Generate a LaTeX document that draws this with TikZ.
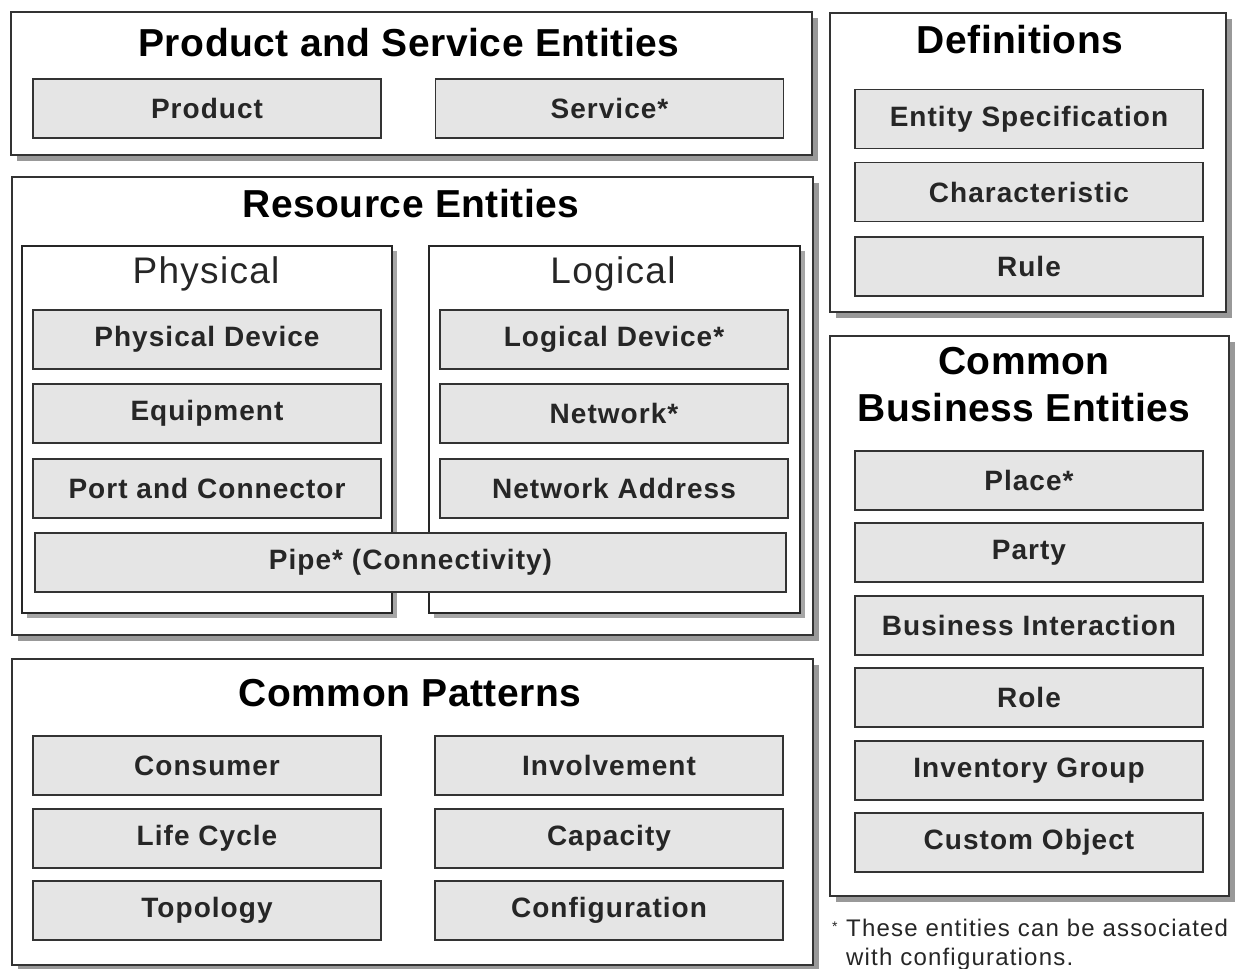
\documentclass[tikz,border=0pt]{standalone}
\usepackage{fontspec}
\setmainfont{Liberation Sans}
\usetikzlibrary{shadows}
\begin{document}
\begin{tikzpicture}[x=1pt,y=-1pt,
  outerbox/.style={draw=black!80, line width=2pt, fill=white, inner sep=0pt,
    drop shadow={shadow xshift=6pt, shadow yshift=-6pt, fill=black!40, opacity=1}},
  subbox/.style={draw=black!85, line width=1.8pt, fill=white, inner sep=0pt,
    drop shadow={shadow xshift=5pt, shadow yshift=-5pt, fill=black!35, opacity=1}},
  ibox/.style={draw=black!80, line width=1.8pt, fill=black!10, inner sep=0pt,
    minimum width=348pt, minimum height=59pt,
    font=\fontsize{28}{33}\selectfont\bfseries\addfontfeature{LetterSpace=3.7}, text=black!85},
  title/.style={font=\fontsize{39}{47}\selectfont\bfseries\addfontfeature{LetterSpace=1.3}, inner sep=0pt, text=black, align=center},
  subtitle/.style={font=\fontsize{37}{44}\selectfont\addfontfeature{LetterSpace=3.5}, inner sep=0pt, text=black!85},
  note/.style={font=\fontsize{24}{28}\selectfont\addfontfeature{LetterSpace=5}, inner sep=0pt, anchor=base west, text=black!85}]
\useasboundingbox (0,0) rectangle (1235,969);
\fill[white] (0,0) rectangle (1235,969);

% Product and Service Entities
\node[outerbox, minimum width=801pt, minimum height=143pt] (pse) at (411.5,83.5) {};
\node[title] (psetitle) at (409,43) {Product and Service Entities};
\node[ibox] (product) at (207,108.5) {Product};
\node[ibox] (service) at (609.5,108.5) {Service*};

% Definitions
\node[outerbox, minimum width=396pt, minimum height=299pt] (defs) at (1028,162.5) {};
\node[title] (defstitle) at (1020,40) {Definitions};
\node[ibox] (entspec) at (1029,119) {Entity Specification};
\node[ibox] (charac) at (1029,192) {Characteristic};
\node[ibox] (rule) at (1029,266.5) {Rule};

% Resource Entities
\node[outerbox, minimum width=801pt, minimum height=458pt] (res) at (412.5,406) {};
\node[title] (restitle) at (411,204) {Resource Entities};
\node[subbox, minimum width=370pt, minimum height=367pt] (phys) at (207,429.5) {};
\node[subtitle] (physt) at (206,274) {Physical};
\node[subbox, minimum width=371pt, minimum height=367pt] (logi) at (614.5,429.5) {};
\node[subtitle] (logit) at (613,274) {Logical};
\node[ibox] (physdev) at (207,339.5) {Physical Device};
\node[ibox] (equip) at (207,413.5) {Equipment};
\node[ibox] (port) at (207,488.5) {Port and Connector};
\node[ibox] (logdev) at (614,339.5) {Logical Device*};
\node[ibox] (network) at (614,413.5) {Network*};
\node[ibox] (netaddr) at (614,488.5) {Network Address};
\node[ibox, minimum width=751pt] (pipe) at (410.5,562.5) {Pipe* (Connectivity)};

% Common Patterns
\node[outerbox, minimum width=801pt, minimum height=306pt] (cp) at (412.5,812) {};
\node[title] (cptitle) at (410,693) {Common Patterns};
\node[ibox] (consumer) at (207,765.5) {Consumer};
\node[ibox] (lifecycle) at (207,838.5) {Life Cycle};
\node[ibox] (topology) at (207,910.5) {Topology};
\node[ibox] (involve) at (609,765.5) {Involvement};
\node[ibox] (capacity) at (609,838.5) {Capacity};
\node[ibox] (config) at (609,910.5) {Configuration};

% Common Business Entities
\node[outerbox, minimum width=399pt, minimum height=560pt] (cbe) at (1029.5,616) {};
\node[title] (cbetitle) at (1024,385) {Common\\Business Entities};
\node[ibox] (place) at (1029,480.5) {Place*};
\node[ibox] (party) at (1029,552.5) {Party};
\node[ibox] (bizint) at (1029,625.5) {Business Interaction};
\node[ibox] (role) at (1029,697.5) {Role};
\node[ibox] (invgrp) at (1029,770.5) {Inventory Group};
\node[ibox] (custobj) at (1029,842.5) {Custom Object};

% Footnote
\node[note] (star) at (832,936) {\raisebox{5pt}{\fontsize{14}{14}\selectfont *}};
\node[note] (note1) at (846,936) {These entities can be associated};
\node[note] (note2) at (846,965) {with configurations.};
\end{tikzpicture}
\end{document}
